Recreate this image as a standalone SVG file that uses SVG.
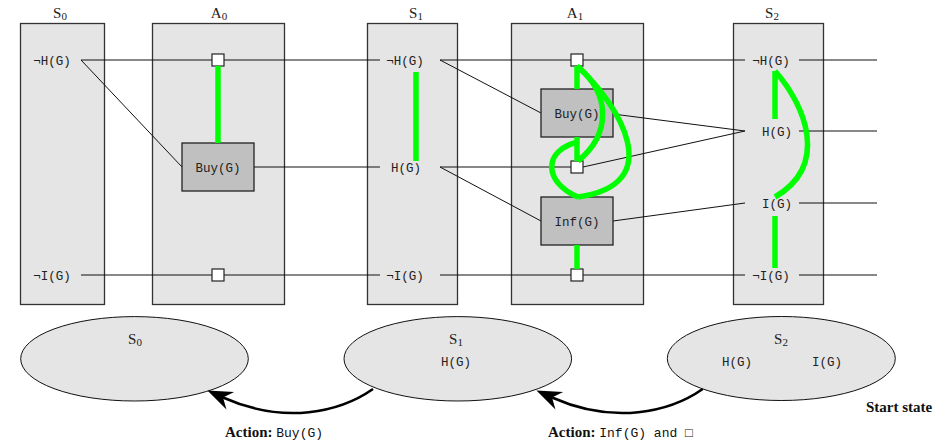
<svg xmlns="http://www.w3.org/2000/svg" width="951" height="444" viewBox="0 0 951 444">
<style>
.col{fill:#e5e5e5;stroke:#333;stroke-width:1.3}
.act{fill:#c0c0c0;stroke:#222;stroke-width:1.3}
.sq{fill:#fff;stroke:#222;stroke-width:1.2}
.ln{stroke:#111;stroke-width:1;fill:none}
.mx{stroke:#00ff00;stroke-width:5.5;fill:none}
.mono{font-family:"Liberation Mono","DejaVu Sans Mono",monospace;font-size:12.5px;fill:#222}
.ser{font-family:"Liberation Serif","DejaVu Serif",serif;font-size:15px;fill:#222}
.bold{font-family:"Liberation Serif","DejaVu Serif",serif;font-size:15px;font-weight:bold;fill:#111}
.mono2{font-family:"Liberation Mono","DejaVu Sans Mono",monospace;font-size:13px;fill:#111}
.ell{fill:#e5e5e5;stroke:#111;stroke-width:1}
.arr{stroke:#000;stroke-width:2.6;fill:none}
</style>
<defs>
<marker id="ah" markerUnits="userSpaceOnUse" orient="auto" refX="0" refY="0" markerWidth="40" markerHeight="40" overflow="visible">
<path d="M17,0 L-8,-9.5 L0,0 L-8,9.5 Z" fill="#000"/>
</marker>
</defs>

<!-- columns -->
<g id="S0">
<rect class="col" x="20.5" y="23.5" width="84" height="281"/>
<text class="ser" x="60" y="18" text-anchor="middle">S<tspan font-size="11" dy="2">0</tspan></text>
<text class="mono" x="52" y="65" text-anchor="middle">¬H(G)</text>
<text class="mono" x="52" y="280" text-anchor="middle">¬I(G)</text>
</g>
<g id="A0">
<rect class="col" x="152.5" y="23.5" width="132" height="281"/>
<text class="ser" x="219" y="18" text-anchor="middle">A<tspan font-size="11" dy="2">0</tspan></text>
</g>
<g id="S1">
<rect class="col" x="367.5" y="23.5" width="90" height="281"/>
<text class="ser" x="416" y="18" text-anchor="middle">S<tspan font-size="11" dy="2">1</tspan></text>
<text class="mono" x="405" y="65" text-anchor="middle">¬H(G)</text>
<text class="mono" x="406" y="172" text-anchor="middle">H(G)</text>
<text class="mono" x="405" y="280" text-anchor="middle">¬I(G)</text>
</g>
<g id="A1">
<rect class="col" x="511.5" y="23.5" width="132" height="281"/>
<text class="ser" x="575" y="18" text-anchor="middle">A<tspan font-size="11" dy="2">1</tspan></text>
</g>
<g id="S2">
<rect class="col" x="733.5" y="23.5" width="90" height="281"/>
<text class="ser" x="772" y="18" text-anchor="middle">S<tspan font-size="11" dy="2">2</tspan></text>
<text class="mono" x="771" y="65" text-anchor="middle">¬H(G)</text>
<text class="mono" x="777" y="136" text-anchor="middle">H(G)</text>
<text class="mono" x="777" y="208" text-anchor="middle">I(G)</text>
<text class="mono" x="771" y="280" text-anchor="middle">¬I(G)</text>
</g>

<!-- connectors -->
<g id="connectors" class="ln">
<line x1="81" y1="60" x2="380" y2="60"/>
<line x1="440" y1="60" x2="745" y2="60"/>
<line x1="799" y1="60" x2="877" y2="60"/>
<line x1="254" y1="167" x2="380" y2="167"/>
<line x1="440" y1="167" x2="571" y2="167"/>
<line x1="799" y1="131" x2="877" y2="131"/>
<line x1="799" y1="203" x2="877" y2="203"/>
<line x1="81" y1="275" x2="380" y2="275"/>
<line x1="440" y1="275" x2="745" y2="275"/>
<line x1="799" y1="275" x2="877" y2="275"/>
<line x1="81" y1="60" x2="182" y2="167"/>
<line x1="440" y1="60" x2="541" y2="113"/>
<line x1="440" y1="167" x2="541" y2="221"/>
<line x1="613" y1="114" x2="745" y2="131"/>
<line x1="583" y1="167" x2="745" y2="131"/>
<line x1="613" y1="221" x2="745" y2="203"/>
</g>

<!-- action nodes -->
<g id="A0-buy">
<rect class="act" x="182" y="143" width="72" height="48"/>
<text class="mono" x="218" y="172" text-anchor="middle">Buy(G)</text>
</g>
<g id="A0-noop-top"><rect class="sq" x="212" y="54" width="12" height="12"/></g>
<g id="A0-noop-bottom"><rect class="sq" x="212" y="269" width="12" height="12"/></g>
<g id="A1-buy">
<rect class="act" x="541" y="89" width="72" height="48"/>
<text class="mono" x="577" y="118" text-anchor="middle">Buy(G)</text>
</g>
<g id="A1-inf">
<rect class="act" x="541" y="197" width="72" height="48"/>
<text class="mono" x="577" y="226" text-anchor="middle">Inf(G)</text>
</g>
<g id="A1-noop-top"><rect class="sq" x="571" y="54" width="12" height="12"/></g>
<g id="A1-noop-mid"><rect class="sq" x="571" y="161" width="12" height="12"/></g>
<g id="A1-noop-bottom"><rect class="sq" x="571" y="269" width="12" height="12"/></g>

<!-- mutex links -->
<g id="mutex" class="mx">
<line x1="218" y1="66" x2="218" y2="143"/>
<line x1="416" y1="72" x2="416" y2="161"/>
<line x1="577" y1="66" x2="577" y2="89"/>
<line x1="577" y1="137" x2="577" y2="161"/>
<line x1="577" y1="245" x2="577" y2="269"/>
<path d="M577,66 C612,95 610,135 578,161"/>
<path d="M577,66 C620,105 668,185 578,197"/>
<path d="M578,197 C543,182 543,150 578,142"/>
<line x1="775" y1="71" x2="775" y2="119"/>
<path d="M775,71 C805,105 830,165 775,197"/>
<line x1="775" y1="216" x2="775" y2="268"/>
</g>

<!-- state graph -->
<g id="state-S0">
<ellipse class="ell" cx="134.5" cy="358.8" rx="113.8" ry="42.2"/>
<text class="ser" x="135" y="344" text-anchor="middle">S<tspan font-size="11" dy="2">0</tspan></text>
</g>
<g id="state-S1">
<ellipse class="ell" cx="457.8" cy="358.8" rx="113.8" ry="42.2"/>
<text class="ser" x="456" y="344" text-anchor="middle">S<tspan font-size="11" dy="2">1</tspan></text>
<text class="mono" x="456" y="366" text-anchor="middle">H(G)</text>
</g>
<g id="state-S2">
<ellipse class="ell" cx="781.3" cy="358.5" rx="114" ry="42"/>
<text class="ser" x="781" y="344" text-anchor="middle">S<tspan font-size="11" dy="2">2</tspan></text>
<text class="mono" x="737" y="366" text-anchor="middle">H(G)</text>
<text class="mono" x="827" y="366" text-anchor="middle">I(G)</text>
</g>
<g id="state-arrows" class="arr">
<path d="M373,389 C340,412 285,425 223,397.5" marker-end="url(#ah)"/>
<path d="M702.7,389 C670,412 614,425 552,397.5" marker-end="url(#ah)"/>
</g>
<g id="labels">
<text x="225" y="437"><tspan class="bold">Action: </tspan><tspan class="mono2">Buy(G)</tspan></text>
<text x="548" y="437"><tspan class="bold">Action: </tspan><tspan class="mono2">Inf(G) and □</tspan></text>
<text class="bold" x="866" y="412">Start state</text>
</g>
</svg>
